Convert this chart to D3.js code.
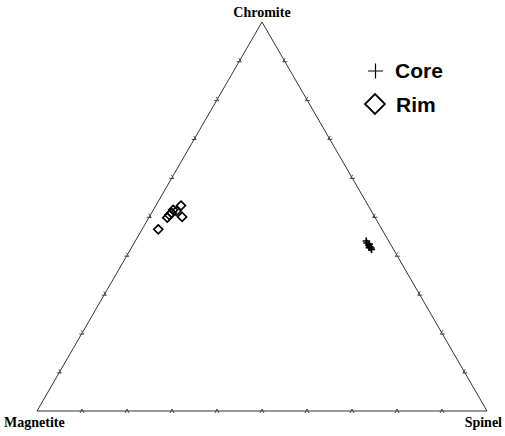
<!DOCTYPE html>
<html>
<head>
<meta charset="utf-8">
<style>
  body { margin: 0; background: #fff; }
  svg { display: block; }
</style>
</head>
<body>
<svg width="505" height="436"></svg>
<script src="https://cdn.jsdelivr.net/npm/d3@7"></script>
<script>
  // end members (apex order: top, bottom-left, bottom-right)
  var apexLabels = ["Chromite", "Magnetite", "Spinel"];
  var tickValues = [10, 20, 30, 40, 50, 60, 70, 80, 90];

  // Core analyses, percent
  var coreChromite  = [43.7, 43.2, 42.6, 42.2, 41.9, 41.5, 42.9, 42.0];
  var coreMagnetite = [5.0, 5.1, 5.0, 4.9, 4.8, 4.9, 4.7, 5.2];
  var coreSpinel    = [51.3, 51.7, 52.4, 52.9, 53.3, 53.6, 52.4, 52.8];

  // Rim analyses, percent
  var rimChromite  = [46.7, 49.7, 50.4, 51.7, 51.4, 52.8, 49.9, 50.9];
  var rimMagnetite = [49.7, 46.2, 45.4, 43.9, 43.3, 41.6, 42.8, 44.6];
  var rimSpinel    = [3.6, 4.1, 4.2, 4.4, 5.3, 5.6, 7.3, 4.5];

  var svg = d3.select("svg");

  // ternary -> cartesian through two linear scales
  var xs = d3.scaleLinear().domain([0, 1]).range([37, 487]);
  var ys = d3.scaleLinear().domain([0, 1]).range([411, 22]);

  function proj(c, m, s) {
    var t = c + m + s;
    c = c / t; s = s / t;
    return [xs(s + c / 2), ys(c)];
  }

  var pTop = proj(1, 0, 0), pLeft = proj(0, 1, 0), pRight = proj(0, 0, 1);

  // triangle outline
  svg.append("path")
    .attr("d", d3.line()([pTop, pLeft, pRight, pTop]))
    .attr("fill", "none")
    .attr("stroke", "#333")
    .attr("stroke-width", 1);

  // small carets along each side, pointing inward
  var centroid = proj(1, 1, 1);
  var sides = [[pLeft, pRight], [pLeft, pTop], [pTop, pRight]];
  var ticks = svg.append("g").attr("stroke", "#444").attr("stroke-width", 1).attr("fill", "none");
  sides.forEach(function(sd) {
    tickValues.forEach(function(v) {
      var f = v / 100;
      var px = sd[0][0] + (sd[1][0] - sd[0][0]) * f;
      var py = sd[0][1] + (sd[1][1] - sd[0][1]) * f;
      // inward unit normal
      var dx = sd[1][0] - sd[0][0], dy = sd[1][1] - sd[0][1];
      var len = Math.sqrt(dx * dx + dy * dy);
      var nx = -dy / len, ny = dx / len;
      if ((centroid[0] - px) * nx + (centroid[1] - py) * ny < 0) { nx = -nx; ny = -ny; }
      var ux = dx / len, uy = dy / len;
      var apex = [px + nx * 2, py + ny * 2];
      var a = [px - nx * 2 - ux * 2, py - ny * 2 - uy * 2];
      var b = [px - nx * 2 + ux * 2, py - ny * 2 + uy * 2];
      ticks.append("path").attr("d", d3.line()([a, apex, b]));
    });
  });

  // apex labels
  var labelFont = "'Liberation Serif', 'Times New Roman', serif";
  svg.append("text").attr("x", pTop[0]).attr("y", 17).attr("text-anchor", "middle")
    .attr("font-family", labelFont).attr("font-weight", "bold").attr("font-size", 14)
    .text(apexLabels[0]);
  svg.append("text").attr("x", 4).attr("y", 427)
    .attr("font-family", labelFont).attr("font-weight", "bold").attr("font-size", 14)
    .text(apexLabels[1]);
  svg.append("text").attr("x", 502).attr("y", 427).attr("text-anchor", "end")
    .attr("font-family", labelFont).attr("font-weight", "bold").attr("font-size", 14)
    .text(apexLabels[2]);

  // data
  var core = coreChromite.map(function(c, i) { return proj(c, coreMagnetite[i], coreSpinel[i]); });
  var rim = rimChromite.map(function(c, i) { return proj(c, rimMagnetite[i], rimSpinel[i]); });

  svg.append("g").selectAll("path").data(core).enter().append("path")
    .attr("transform", function(d) { return "translate(" + d[0] + "," + d[1] + ")"; })
    .attr("d", "M-3.5,0H3.5M0,-3.5V3.5")
    .attr("stroke", "#000").attr("stroke-width", 1.6);

  svg.append("g").selectAll("path").data(rim).enter().append("path")
    .attr("transform", function(d) { return "translate(" + d[0] + "," + d[1] + ")"; })
    .attr("d", "M0,-4.5L4.5,0L0,4.5L-4.5,0Z")
    .attr("fill", "none").attr("stroke", "#000").attr("stroke-width", 1.6);

  // legend
  var lg = svg.append("g").attr("font-family", "'Liberation Sans', Arial, sans-serif")
    .attr("font-weight", "bold").attr("font-size", 21);
  lg.append("path").attr("d", "M368,71H383M375.5,63.5V78.5").attr("stroke", "#000").attr("stroke-width", 1.2);
  lg.append("text").attr("x", 395).attr("y", 78).text("Core");
  lg.append("path").attr("d", "M375,94L385,104L375,114L365,104Z")
    .attr("fill", "none").attr("stroke", "#000").attr("stroke-width", 1.8);
  lg.append("text").attr("x", 396).attr("y", 112).text("Rim");
</script>
</body>
</html>
